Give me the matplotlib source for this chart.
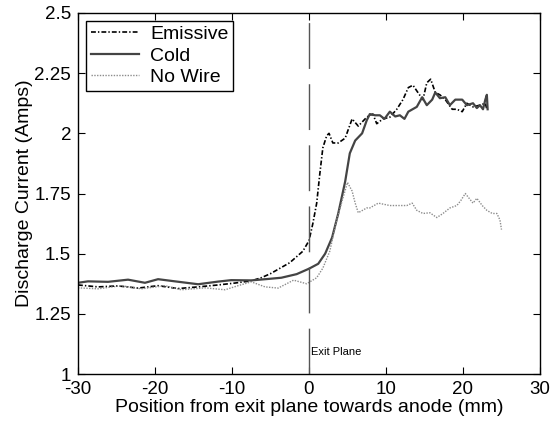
import matplotlib
matplotlib.use("Agg")
import matplotlib.pyplot as plt

plt.rcParams['font.family'] = ['Liberation Sans', 'DejaVu Sans']
plt.rcParams['lines.scale_dashes'] = False
plt.rcParams['axes.unicode_minus'] = False

# Emissive wire (dash-dot, black)
em_x = [-30, -27.4, -24.8, -22.2, -19.6, -17, -14.4, -11.8, -9.6, -7.5, -6.2, -5, -2.5, -0.8,
        0, 0.5, 1.0, 1.4, 1.8, 2.3, 2.6, 3.1, 3.8, 4.7, 5.6, 6.4, 7.5, 7.9, 8.3, 8.8, 9.6, 10.5,
        11.4, 12.2, 12.9, 13.5, 14.2, 14.8, 15.3, 15.8, 16.4, 17.0, 17.7, 18.6, 19.2, 19.9, 20.5,
        21.3, 22.2, 22.9, 23.1]
em_y = [1.37, 1.362, 1.366, 1.357, 1.367, 1.355, 1.362, 1.37, 1.378, 1.387, 1.40, 1.417, 1.4625, 1.51,
        1.554, 1.625, 1.71, 1.83, 1.94, 1.99, 2.0, 1.96, 1.96, 1.98, 2.06, 2.03, 2.067, 2.075, 2.08, 2.04, 2.06, 2.067,
        2.10, 2.14, 2.19, 2.20, 2.167, 2.14, 2.21, 2.225, 2.17, 2.16, 2.14, 2.10, 2.10, 2.09, 2.125,
        2.11, 2.117, 2.125, 2.10]

# Cold wire (solid, dark gray)
cold_x = [-30, -28.7, -26.1, -23.5, -21.3, -19.6, -17.4, -14.4, -11.8, -10.1, -7.5, -5.3, -3.6, -1.6,
          0, 1.2, 2.1, 3.0, 3.8, 4.7, 5.3, 6.0, 6.9, 7.5, 7.9, 8.6, 9.2, 9.8, 10.5, 11.2, 11.8, 12.4,
          12.9, 14.0, 14.7, 15.3, 16.0, 16.4, 17.0, 17.7, 18.3, 19.0, 19.9, 20.5, 21.3, 21.8, 22.2,
          22.6, 22.9, 23.1, 23.2]
cold_y = [1.379, 1.385, 1.383, 1.392, 1.379, 1.394, 1.385, 1.373, 1.384, 1.39, 1.389, 1.395, 1.40, 1.415,
          1.4375, 1.458, 1.50, 1.567, 1.667, 1.80, 1.917, 1.97, 2.0, 2.054, 2.08, 2.075, 2.075, 2.06, 2.09, 2.07, 2.075, 2.06,
          2.09, 2.11, 2.15, 2.117, 2.14, 2.17, 2.146, 2.15, 2.117, 2.14, 2.14, 2.117, 2.125, 2.105, 2.117,
          2.10, 2.14, 2.16, 2.10]

# No wire (dotted, light gray)
nw_x = [-30, -27.4, -24.4, -21.8, -18.7, -16.6, -13.5, -10.9, -9.2, -7.5, -5.7, -4, -2.0, -0.3,
        1.0, 1.8, 2.7, 3.6, 4.4, 5.0, 5.6, 6.0, 6.4, 7.5, 7.9, 9.0, 10.5, 11.8, 12.7, 13.4, 14.0,
        14.8, 15.7, 16.6, 17.4, 18.3, 19.2, 19.7, 20.3, 20.8, 21.3, 21.8, 22.5, 23.1, 23.8, 24.4,
        24.8, 25.0]
nw_y = [1.358, 1.354, 1.367, 1.354, 1.367, 1.35, 1.358, 1.35, 1.367, 1.383, 1.362, 1.357, 1.39, 1.375,
        1.40, 1.44, 1.51, 1.64, 1.73, 1.796, 1.76, 1.71, 1.67, 1.69, 1.69, 1.71, 1.70, 1.70, 1.70, 1.71, 1.68,
        1.667, 1.67, 1.65, 1.667, 1.69, 1.70, 1.72, 1.75, 1.73, 1.71, 1.73, 1.70, 1.68, 1.667, 1.667,
        1.64, 1.60]

xticks = [-30, -20, -10, 0, 10, 20, 30]
yticks = [1, 1.25, 1.5, 1.75, 2, 2.25, 2.5]
ytick_labels = ['1', '1.25', '1.5', '1.75', '2', '2.25', '2.5']

fig = plt.figure(figsize=(5.59, 4.23), dpi=100)
ax = fig.add_axes([0.1395, 0.1158, 0.8265, 0.8535])

ax.plot(em_x, em_y, color='black', lw=1.2, dashes=[3.5, 1.5, 1, 1.5], label='Emissive')
ax.plot(cold_x, cold_y, color='#444444', lw=1.6, label='Cold')
ax.plot(nw_x, nw_y, color='#8c8c8c', lw=1.0, dashes=[1, 1], label='No Wire')

# exit plane marker
ax.plot([0, 0], [1, 2.5], color='#555555', lw=1.0, dashes=[33, 11])
ax.text(0.25, 1.09, 'Exit Plane', fontsize=8, va='center', ha='left')

ax.set_xlim(-30, 30)
ax.set_ylim(1, 2.5)
ax.set_xticks(xticks)
ax.set_yticks(yticks)
ax.set_yticklabels(ytick_labels)
ax.tick_params(direction='in', top=True, right=True, length=5, labelsize=13.5, pad=5)
for s in ax.spines.values():
    s.set_linewidth(1.0)

ax.set_xlabel('Position from exit plane towards anode (mm)', fontsize=14, labelpad=1)
ax.set_ylabel('Discharge Current (Amps)', fontsize=14, labelpad=1)

leg = ax.legend(loc='upper left', fontsize=14, handlelength=2.5, handletextpad=0.55,
                labelspacing=0.2, borderpad=0.25, borderaxespad=0.4, fancybox=False,
                framealpha=1, edgecolor='black')
leg.get_frame().set_linewidth(1.0)

fig.savefig('out.png', dpi=100)
